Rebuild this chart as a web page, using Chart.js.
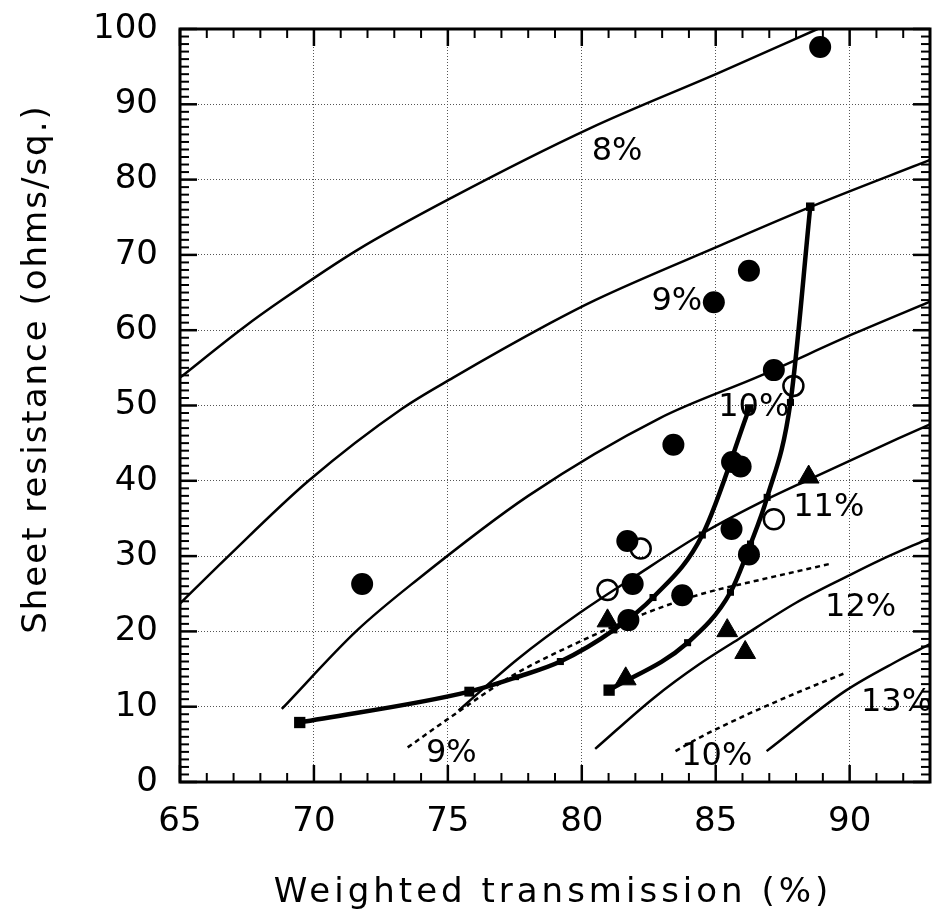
<!DOCTYPE html>
<html>
<head>
<meta charset="utf-8">
<script src="https://cdn.jsdelivr.net/npm/chart.js@4.4.1/dist/chart.umd.min.js"></script>
<style>
  body { margin: 0; background: #fff; }
  canvas { display: block; }
</style>
</head>
<body>
<canvas id="sheetChart" width="932" height="918"></canvas>
<script>
// Efficiency contours, [transmission %, sheet resistance]
const contour8 = [[65, 53.7], [67.35, 60.3], [68.8, 64], [71.6, 70.6], [75.2, 77.7], [80.3, 86.8], [85.2, 94.3], [88.8, 100]];
const contour9 = [[65, 23.7], [66.75, 29.8], [69.8, 40], [73.3, 49.6], [75.2, 53.7], [78.8, 60.9], [80.5, 64], [85.2, 71.3], [88.5, 76.3], [93, 82.6]];
const contour10 = [[68.8, 9.7], [71.6, 20.1], [73.8, 26.7], [78, 38], [82.9, 48.3], [86.7, 54], [90.2, 59.6], [93, 63.8]];
const contour11 = [[75.4, 9.5], [77.6, 16.3], [79.9, 22.4], [81.9, 27.1], [84.5, 33], [86.6, 37], [88.5, 40.2], [91.8, 45.6], [93, 47.5]];
const contour12 = [[80.5, 4.4], [82.7, 11.2], [84.37, 15.6], [85.86, 19], [88, 23.8], [89.96, 27.4], [91.1, 29.4], [93, 32.4]];
const contour13 = [[86.9, 4.1], [89.84, 12.1], [91.8, 16.1], [93, 18.3]];
const dotted9 = [[73.5, 4.6], [75.3, 9.1], [77.4, 14.1], [79.9, 18.6], [82.3, 22.3], [84.5, 25], [86.6, 26.8], [89.3, 29]];
const dotted10 = [[83.5, 4.1], [84.4, 5.9], [86.2, 9], [88, 11.8], [89.85, 14.5]];

// Two deposition series joined by thick lines
const seriesA = [[69.47, 7.9], [75.8, 12], [77.55, 13.9], [79.2, 16], [81.2, 20.2], [82.66, 24.5], [84.5, 32.8], [86.25, 49.6]];
const seriesB = [[81.02, 12.2], [83.95, 18.5], [85.55, 25.2], [86.3, 31.6], [86.92, 37.8], [87.79, 50.4], [88.53, 76.4]];

// Individual samples
const filledCircles = [[71.8, 26.3], [83.42, 44.8], [84.93, 63.7], [86.24, 67.9], [88.9, 97.6], [87.17, 54.7], [85.61, 42.5], [85.93, 41.9], [85.59, 33.6], [86.24, 30.2], [81.7, 32], [81.9, 26.3], [83.75, 24.8], [81.74, 21.5]];
const openCircles = [[87.9, 52.6], [87.17, 34.9], [82.2, 31], [80.96, 25.5]];
const triangles = [[88.47, 40.5], [80.96, 21.4], [85.43, 20.1], [86.1, 17.2], [81.64, 13.7]];

// Contour labels
const contourLabels = [
  { text: '8%', x: 81.32, y: 83.7 },
  { text: '9%', x: 83.55, y: 63.8 },
  { text: '10%', x: 86.42, y: 49.7 },
  { text: '11%', x: 89.22, y: 36.4 },
  { text: '12%', x: 90.41, y: 23.2 },
  { text: '13%', x: 91.75, y: 10.5 },
  { text: '9%', x: 75.13, y: 3.7 },
  { text: '10%', x: 85.04, y: 3.3 }
];

const xRange = [65, 93];
const yRange = [0, 100];
const xTitle = 'Weighted transmission (%)';
const yTitle = 'Sheet resistance (ohms/sq.)';

const FONT = '"DejaVu Sans", sans-serif';
const pts = arr => arr.map(([x, y]) => ({ x, y }));

function contour(data, dashed) {
  return {
    data: pts(data),
    showLine: true,
    borderColor: '#000',
    borderWidth: 2.5,
    borderDash: dashed ? [5, 4] : [],
    pointRadius: 0,
    cubicInterpolationMode: 'monotone',
    order: 5
  };
}

function thickSeries(data, sizes) {
  return {
    data: pts(data),
    showLine: true,
    borderColor: '#000',
    borderWidth: 4.5,
    backgroundColor: '#000',
    pointStyle: 'rect',
    pointRadius: sizes,
    pointBorderWidth: 0,
    cubicInterpolationMode: 'monotone',
    order: 3
  };
}

// Inside tick marks on all four sides plus the heavy frame
const frameTicks = {
  id: 'frameTicks',
  afterDraw(chart) {
    const { ctx, chartArea: a, scales: { x, y } } = chart;
    ctx.save();
    ctx.strokeStyle = '#000';
    const seg = (x1, y1, x2, y2) => { ctx.beginPath(); ctx.moveTo(x1, y1); ctx.lineTo(x2, y2); ctx.stroke(); };
    for (let v = xRange[0]; v <= xRange[1]; v++) {
      const px = x.getPixelForValue(v);
      const major = v % 5 === 0;
      ctx.lineWidth = major ? 2.5 : 2;
      const len = major ? 17 : 9;
      seg(px, a.bottom, px, a.bottom - len);
      seg(px, a.top, px, a.top + len);
    }
    for (let v = yRange[0]; v <= yRange[1]; v++) {
      const py = y.getPixelForValue(v);
      const major = v % 10 === 0;
      ctx.lineWidth = major ? 2.5 : 2;
      const len = major ? 17 : 9;
      seg(a.left, py, a.left + len, py);
      seg(a.right, py, a.right - len, py);
    }
    ctx.lineWidth = 3;
    ctx.strokeRect(a.left, a.top, a.width, a.height);
    ctx.restore();
  }
};

// Percent labels on the contours
const labelText = {
  id: 'labelText',
  afterDatasetsDraw(chart) {
    const { ctx, scales: { x, y } } = chart;
    ctx.save();
    ctx.fillStyle = '#000';
    ctx.font = '32px ' + FONT;
    ctx.textAlign = 'center';
    ctx.textBaseline = 'middle';
    contourLabels.forEach(l => ctx.fillText(l.text, x.getPixelForValue(l.x), y.getPixelForValue(l.y)));
    ctx.restore();
  }
};

// Axis titles, letter-spaced like the plotter lettering
const axisTitles = {
  id: 'axisTitles',
  afterDraw(chart) {
    const ctx = chart.ctx;
    ctx.save();
    ctx.fillStyle = '#000';
    ctx.font = '34px ' + FONT;
    ctx.textAlign = 'center';
    ctx.textBaseline = 'middle';
    ctx.letterSpacing = '4px';
    ctx.fillText(xTitle, 553, 893);
    ctx.translate(37, 369);
    ctx.rotate(-Math.PI / 2);
    ctx.letterSpacing = '2px';
    ctx.fillText(yTitle, 0, 0);
    ctx.restore();
  }
};

new Chart(document.getElementById('sheetChart').getContext('2d'), {
  type: 'scatter',
  data: {
    datasets: [
      contour(contour8),
      contour(contour9),
      contour(contour10),
      contour(contour11),
      contour(contour12),
      contour(contour13),
      contour(dotted9, true),
      contour(dotted10, true),
      thickSeries(seriesA, [8, 7, 4, 5, 5, 5, 5, 6]),
      thickSeries(seriesB, [8, 5, 5, 5, 5, 5, 6]),
      {
        data: pts(filledCircles),
        pointStyle: 'circle',
        pointRadius: 11,
        backgroundColor: '#000',
        borderColor: '#000',
        pointBorderWidth: 0,
        order: 1
      },
      {
        data: pts(openCircles),
        pointStyle: 'circle',
        pointRadius: 10,
        backgroundColor: 'rgba(0,0,0,0)',
        borderColor: '#000',
        pointBorderWidth: 2.5,
        order: 1
      },
      {
        data: pts(triangles),
        pointStyle: 'triangle',
        pointRadius: 12,
        backgroundColor: '#000',
        borderColor: '#000',
        pointBorderWidth: 1,
        order: 1
      }
    ]
  },
  options: {
    responsive: false,
    animation: false,
    layout: { autoPadding: false, padding: { top: 29, right: 2, left: 0, bottom: 0 } },
    plugins: {
      legend: { display: false },
      tooltip: { enabled: false }
    },
    scales: {
      x: {
        type: 'linear',
        min: xRange[0],
        max: xRange[1],
        afterFit: s => { s.height = 136; s.paddingLeft = 0; s.paddingRight = 0; },
        grid: { color: '#555', lineWidth: 1, drawTicks: false },
        border: { display: false, dash: [1, 2] },
        ticks: { stepSize: 5, includeBounds: false, padding: 20, color: '#000', font: { family: FONT, size: 34 } }
      },
      y: {
        type: 'linear',
        min: yRange[0],
        max: yRange[1],
        afterFit: s => { s.width = 180; s.paddingTop = 0; s.paddingBottom = 0; },
        grid: { color: '#555', lineWidth: 1, drawTicks: false },
        border: { display: false, dash: [1, 2] },
        ticks: { stepSize: 10, padding: 22, color: '#000', font: { family: FONT, size: 34 } }
      }
    }
  },
  plugins: [frameTicks, labelText, axisTitles]
});
</script>
</body>
</html>
